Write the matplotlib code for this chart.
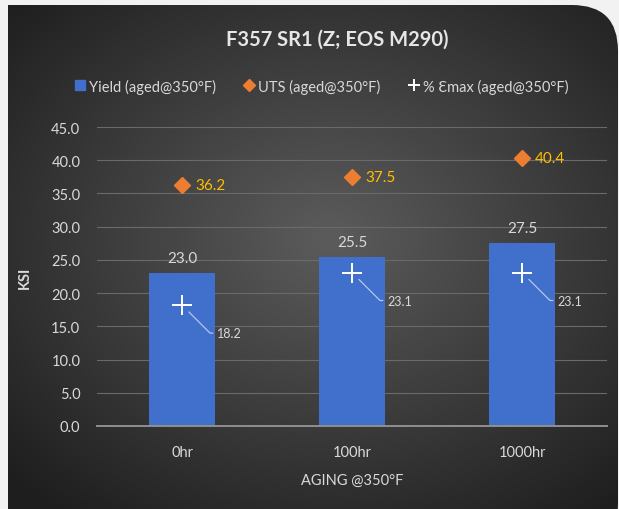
import numpy as np
import matplotlib
matplotlib.use("Agg")
import matplotlib.pyplot as plt
from matplotlib.patches import FancyBboxPatch, Rectangle
from matplotlib.lines import Line2D

plt.rcParams['font.family'] = ['Lato', 'DejaVu Sans']

categories = ["0hr", "100hr", "1000hr"]
yield_ksi = [23.0, 25.5, 27.5]
uts_ksi = [36.2, 37.5, 40.4]
emax_pct = [18.2, 23.1, 23.1]
y_ticks = [0, 5, 10, 15, 20, 25, 30, 35, 40, 45]

W, H = 619, 510
fig = plt.figure(figsize=(W / 100, H / 100), dpi=100, facecolor="#f2f2f2")

# Dark panel with a soft radial gradient and rounded right-hand corners
bg = fig.add_axes([0, 0, 1, 1])
bg.set_xlim(0, W)
bg.set_ylim(0, H)
bg.axis("off")
yy, xx = np.mgrid[0:H, 0:W]
r = np.sqrt(((xx - 330) / 420) ** 2 + ((yy - 270) / 330) ** 2)
shade = np.clip(0.36 - 0.23 * r, 0.12, 0.36)
img = bg.imshow(np.dstack([shade, shade, shade]), extent=(0, W, 0, H),
                origin="lower", zorder=0, interpolation="bilinear")
panel = FancyBboxPatch((-60, -40), W + 60 - 1, H - 6 + 40,
                       boxstyle="round,pad=0,rounding_size=46",
                       transform=bg.transData, facecolor="none", edgecolor="none")
bg.add_patch(panel)
img.set_clip_path(panel)
bg.add_patch(Rectangle((0, 0), 8, H, facecolor="#f2f2f2", edgecolor="none", zorder=2))

ax = fig.add_axes([97 / W, (H - 427) / H, 510 / W, 299 / H])
ax.set_facecolor("none")
x = np.arange(len(categories))

ax.set_ylim(0, 45)
ax.set_xlim(-0.5, 2.5)
ax.set_yticks(y_ticks)
ax.set_yticklabels([f"{v:.1f}" for v in y_ticks])
ax.set_xticks(x)
ax.set_xticklabels(categories)
ax.grid(axis="y", color="#6a6a6a", linewidth=0.8)
ax.set_axisbelow(True)
for s in ["top", "right", "left"]:
    ax.spines[s].set_visible(False)
ax.spines["bottom"].set_color("#8f8f8f")
ax.spines["bottom"].set_linewidth(1.4)
ax.tick_params(axis="both", length=0, colors="#d9d9d9", labelsize=10.5)
ax.tick_params(axis="x", pad=14)
ax.tick_params(axis="y", pad=12)

ax.bar(x, yield_ksi, width=0.39, color="#4070cc", zorder=2)
ax.plot(x, uts_ksi, linestyle="none", marker="D", markersize=8,
        color="#ed7d31", zorder=3)
ax.plot(x, emax_pct, linestyle="none", marker="+", markersize=15,
        markeredgewidth=1.4, color="white", zorder=4)

for xi, v in zip(x, yield_ksi):
    ax.annotate(f"{v:.1f}", (xi, v), xytext=(0, 8), textcoords="offset pixels",
                ha="center", va="bottom", color="#d9d9d9", fontsize=11)
for xi, v in zip(x, uts_ksi):
    ax.annotate(f"{v:.1f}", (xi, v), xytext=(13, 0), textcoords="offset pixels",
                ha="left", va="center", color="#ffc000", fontsize=11)
for xi, v in zip(x, emax_pct):
    ax.annotate(f"{v:.1f}", (xi, v), xytext=(35, -28), textcoords="offset pixels",
                ha="left", va="center", color="#d9d9d9", fontsize=9,
                arrowprops=dict(arrowstyle="-", color="#b4c7e7", linewidth=0.9,
                                connectionstyle="angle,angleA=0,angleB=-45",
                                shrinkA=1, shrinkB=7))

ax.set_xlabel("AGING @350°F", color="#d9d9d9", fontsize=10.5, labelpad=10)
ax.set_ylabel("KSI", color="#d9d9d9", fontsize=10.5, fontweight="bold", labelpad=14)

fig.text(337 / W, 1 - 40 / H, "F357 SR1 (Z; EOS M290)", ha="center", va="center",
         color="#e6e6e6", fontsize=14.5, fontweight="bold")

handles = [
    Line2D([], [], linestyle="none", marker="s", markersize=7, color="#4070cc"),
    Line2D([], [], linestyle="none", marker="D", markersize=6, color="#ed7d31"),
    Line2D([], [], linestyle="none", marker="+", markersize=8,
           markeredgewidth=1.4, color="white"),
]
labels = ["Yield (aged@350°F)", "UTS (aged@350°F)", "% Ɛmax (aged@350°F)"]
leg = fig.legend(handles, labels, loc="center", bbox_to_anchor=(322 / W, 1 - 87 / H),
                 ncol=3, frameon=False, fontsize=10.5, handlelength=0.6,
                 handletextpad=0.3, columnspacing=2.0)
for t in leg.get_texts():
    t.set_color("#d9d9d9")

fig.savefig("out.png", dpi=100, facecolor=fig.get_facecolor())
